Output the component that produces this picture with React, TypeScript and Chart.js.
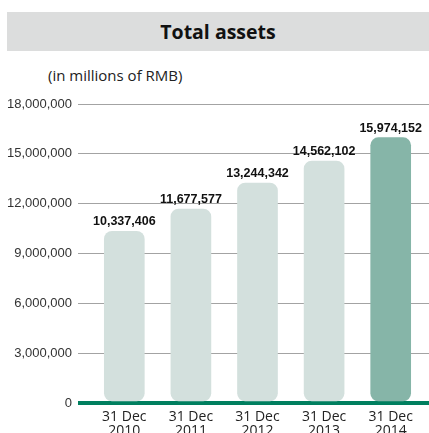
import React, { useEffect, useRef } from "react";
import { Chart, registerables } from "chart.js";

Chart.register(...registerables);

const categories: string[][] = [
  ["31 Dec", "2010"],
  ["31 Dec", "2011"],
  ["31 Dec", "2012"],
  ["31 Dec", "2013"],
  ["31 Dec", "2014"],
];
const totalAssets: number[] = [10337406, 11677577, 13244342, 14562102, 15974152];
const barColors: string[] = ["#d3e0dd", "#d3e0dd", "#d3e0dd", "#d3e0dd", "#86b5a8"];
const yMin = 0;
const yMax = 18000000;
const yStep = 3000000;

const GRID_GRAY = "#a3a3a3";
const ZERO_GREEN = "#007f5f";

const fmt = (v: number) => v.toLocaleString("en-US");

const valueLabels = {
  id: "valueLabels",
  afterDatasetsDraw(chart: any) {
    const ctx = chart.ctx;
    const meta = chart.getDatasetMeta(0);
    ctx.save();
    ctx.font = "bold 12.5px 'Liberation Sans', Arial, sans-serif";
    ctx.fillStyle = "#111";
    ctx.textAlign = "center";
    ctx.textBaseline = "alphabetic";
    meta.data.forEach((bar: any, i: number) => {
      ctx.fillText(fmt(totalAssets[i]), bar.x, bar.y - 6);
    });
    ctx.restore();
  },
};

export default function App() {
  const ref = useRef<HTMLCanvasElement | null>(null);

  useEffect(() => {
    if (!ref.current) return;
    const chart = new Chart(ref.current, {
      type: "bar",
      data: {
        labels: categories,
        datasets: [
          {
            data: totalAssets,
            backgroundColor: barColors,
            borderRadius: 8,
            borderSkipped: false,
            barThickness: 40,
          },
        ],
      },
      options: {
        animation: false,
        responsive: false,
        maintainAspectRatio: false,
        layout: { padding: { top: 104, left: 0, right: 0, bottom: 0 } },
        plugins: {
          legend: { display: false },
          tooltip: { enabled: false },
          title: { display: false },
        },
        scales: {
          x: {
            grid: { display: false, drawTicks: false },
            border: { display: false },
            ticks: {
              padding: 7,
              color: "#222",
              font: { family: "'Open Sans', sans-serif", size: 14, lineHeight: 1.0 },
              maxRotation: 0,
              autoSkip: false,
            },
            afterFit: (s: any) => {
              s.height = 30;
            },
          },
          y: {
            min: yMin,
            max: yMax,
            position: "left",
            border: { display: false },
            grid: {
              color: (c: any) => (c.tick && c.tick.value === 0 ? ZERO_GREEN : GRID_GRAY),
              lineWidth: (c: any) => (c.tick && c.tick.value === 0 ? 4 : 1),
              tickLength: 13,
              drawTicks: true,
            },
            ticks: {
              stepSize: yStep,
              padding: 6,
              color: "#333",
              font: { family: "'Liberation Sans', Arial, sans-serif", size: 13 },
              callback: (v: any) => fmt(Number(v)),
            },
            afterFit: (s: any) => {
              s.width = 91;
            },
          },
          y2: {
            min: yMin,
            max: yMax,
            position: "right",
            z: 1,
            border: { display: false },
            grid: {
              color: (c: any) => (c.tick && c.tick.value === 0 ? ZERO_GREEN : "rgba(0,0,0,0)"),
              tickColor: (c: any) => (c.tick && c.tick.value === 0 ? ZERO_GREEN : GRID_GRAY),
              lineWidth: (c: any) => (c.tick && c.tick.value === 0 ? 4 : 1),
              tickLength: 5,
              drawTicks: true,
            },
            ticks: { stepSize: yStep, display: false },
            afterFit: (s: any) => {
              s.width = 5;
            },
          },
        },
      },
      plugins: [valueLabels],
    });
    return () => chart.destroy();
  }, []);

  return (
    <div
      style={{
        position: "fixed",
        left: 0,
        top: 0,
        width: 429,
        height: 433,
        overflow: "hidden",
        background: "#fff",
      }}
    >
      <div
        style={{
          position: "absolute",
          left: 7,
          top: 12,
          width: 422,
          height: 39,
          background: "#dcdddd",
          display: "flex",
          alignItems: "center",
          justifyContent: "center",
          fontFamily: "'Open Sans', sans-serif",
          fontWeight: 700,
          fontSize: 19.5,
          color: "#111",
        }}
      >
        Total assets
      </div>
      <div
        style={{
          position: "absolute",
          left: 48,
          top: 65,
          fontFamily: "'Open Sans', sans-serif",
          fontSize: 15,
          color: "#222",
          lineHeight: "20px",
          whiteSpace: "nowrap",
        }}
      >
        (in millions of RMB)
      </div>
      <canvas
        ref={ref}
        width={429}
        height={433}
        style={{ position: "absolute", left: 0, top: 0, width: 429, height: 433 }}
      />
    </div>
  );
}
